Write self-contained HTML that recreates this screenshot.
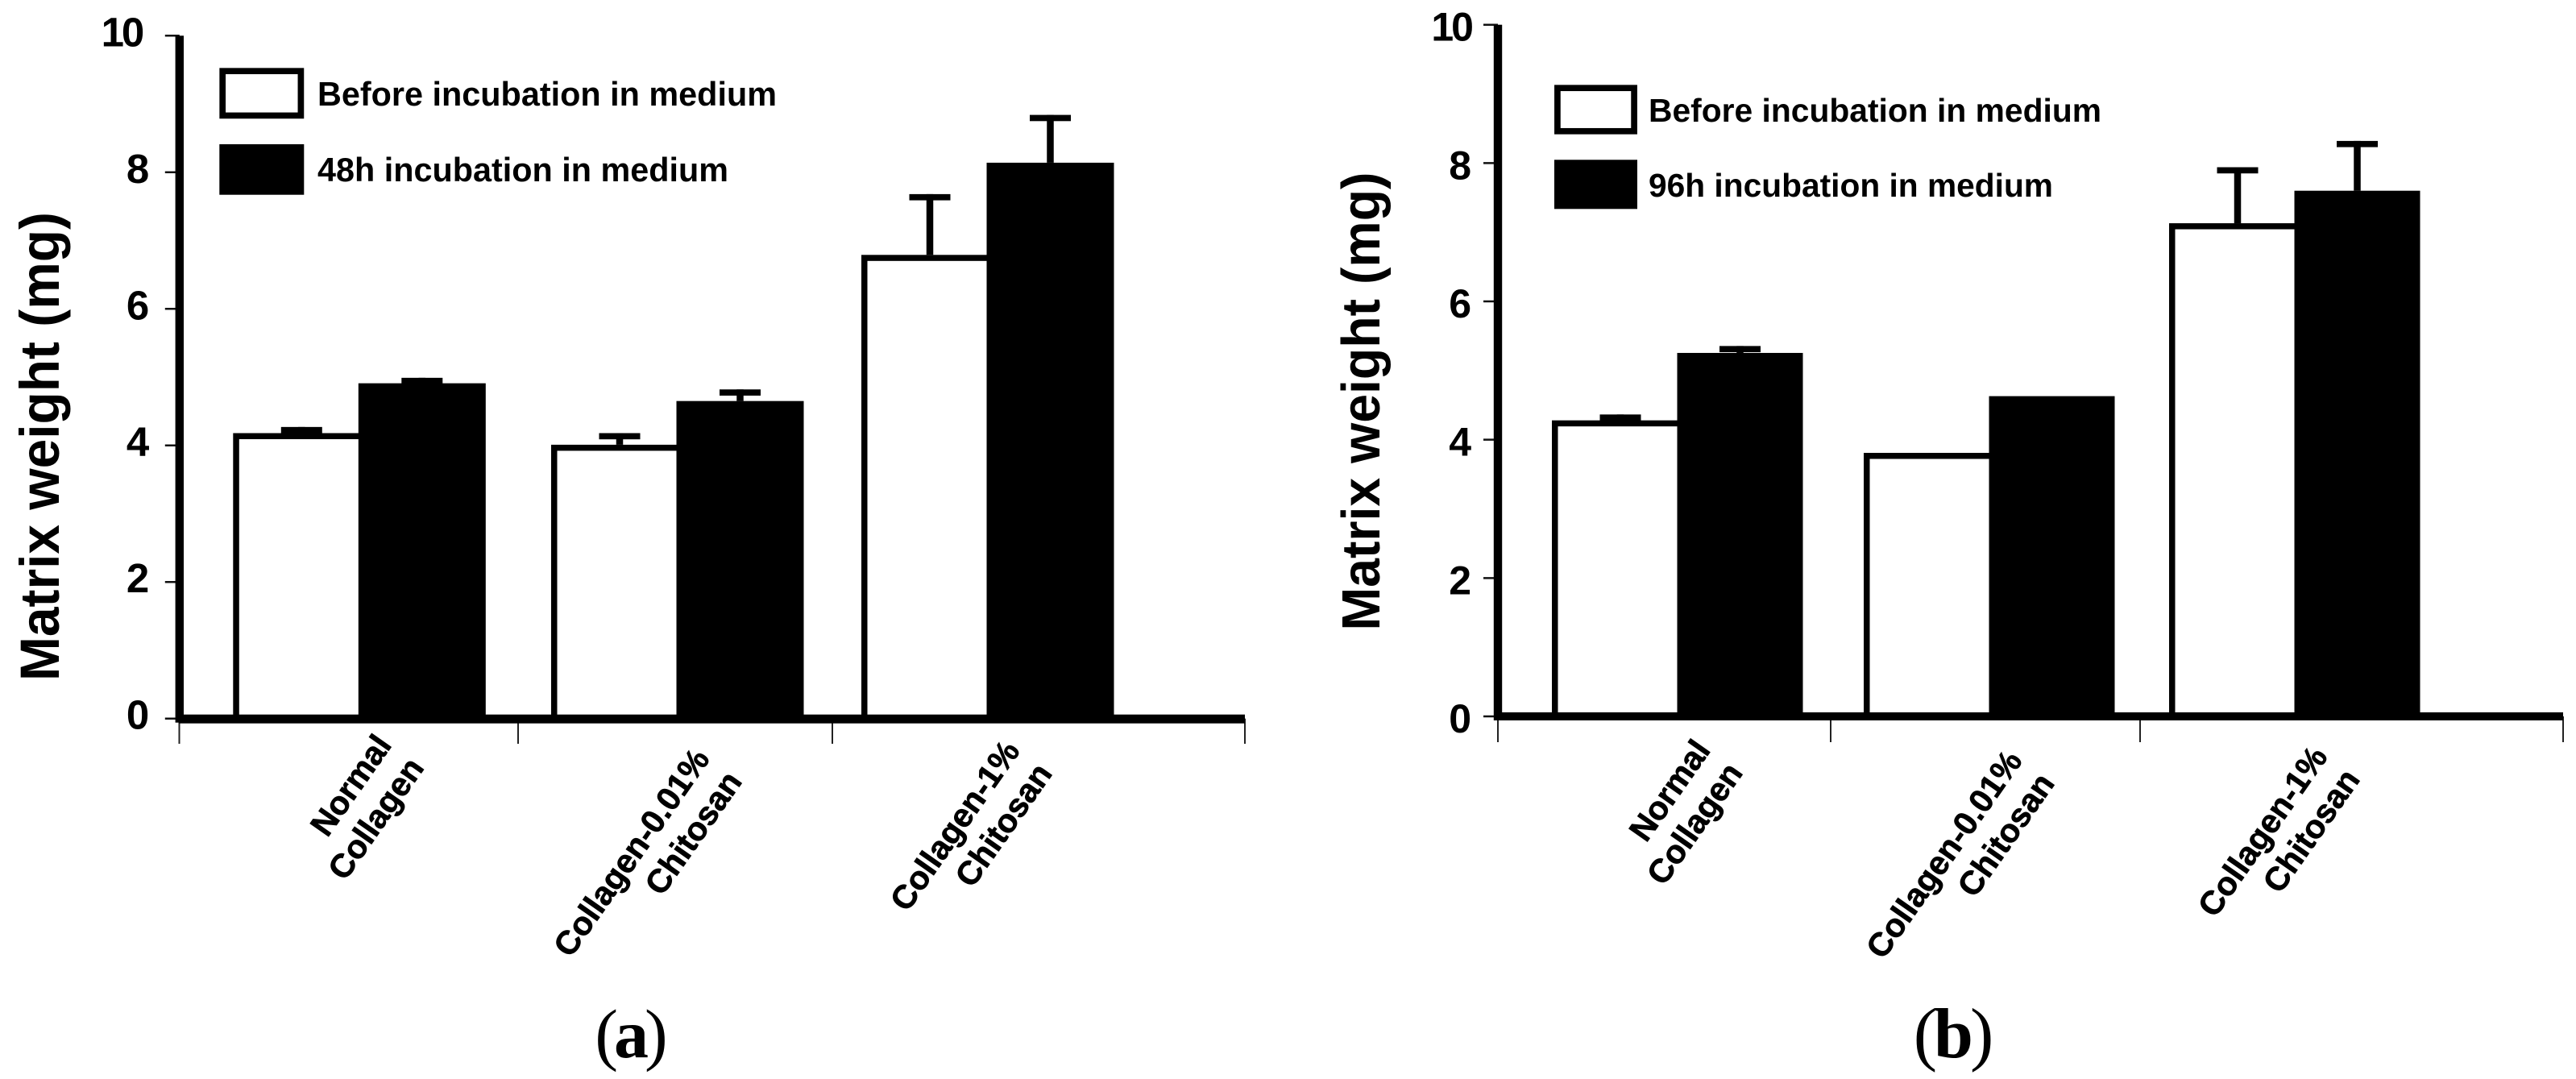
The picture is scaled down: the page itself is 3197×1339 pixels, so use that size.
<!DOCTYPE html>
<html lang="en">
<head>
<meta charset="utf-8">
<title>Matrix weight before and after incubation in medium</title>
<style>
  html, body { margin: 0; padding: 0; background: #fff; }
  svg { display: block; }
  text { font-family: "Liberation Sans", sans-serif; font-weight: bold; fill: #000; }
  .serif { font-family: "Liberation Serif", serif; }
</style>
</head>
<body>
<svg id="figure" xmlns="http://www.w3.org/2000/svg" width="3197" height="1339" viewBox="0 0 3197 1339">
  <rect x="0" y="0" width="3197" height="1339" fill="#ffffff"/>

  <g id="panel-a">
    <text transform="translate(73,554) rotate(-90)" text-anchor="middle" font-size="69" textLength="582" lengthAdjust="spacingAndGlyphs">Matrix weight (mg)</text>
    <g id="marks-a"></g>
    <g>
      <rect x="276.2" y="88.2" width="97.2" height="55.2" fill="#fff" stroke="#000" stroke-width="7.7"/>
      <text x="394" y="131" font-size="41.5" textLength="570" lengthAdjust="spacingAndGlyphs">Before incubation in medium</text>
      <rect x="272.3" y="179" width="105" height="62.7" fill="#000"/>
      <text x="394" y="225" font-size="41.5" textLength="510" lengthAdjust="spacingAndGlyphs">48h incubation in medium</text>
    </g>
    <text class="serif" x="781" y="1312" text-anchor="middle" font-size="86" letter-spacing="-5" style="font-weight:normal">(<tspan style="font-weight:bold">a</tspan>)</text>
  </g>

  <g id="panel-b">
    <text transform="translate(1712,498) rotate(-90)" text-anchor="middle" font-size="67" textLength="569" lengthAdjust="spacingAndGlyphs">Matrix weight (mg)</text>
    <g id="marks-b"></g>
    <g>
      <rect x="1932.9" y="109.2" width="95.2" height="53.6" fill="#fff" stroke="#000" stroke-width="7.7"/>
      <text x="2046" y="151" font-size="41" textLength="562" lengthAdjust="spacingAndGlyphs">Before incubation in medium</text>
      <rect x="1929" y="198.3" width="103" height="61" fill="#000"/>
      <text x="2046" y="244" font-size="41" textLength="502" lengthAdjust="spacingAndGlyphs">96h incubation in medium</text>
    </g>
    <text class="serif" x="2422.5" y="1312" text-anchor="middle" font-size="88" letter-spacing="-4" style="font-weight:normal">(<tspan style="font-weight:bold">b</tspan>)</text>
  </g>
</svg>

<script>
// ---- chart data ----
const categoryFirstLines = ["Normal", "Collagen-0.01%", "Collagen-1%"];
const categorySecondLines = ["Collagen", "Chitosan", "Chitosan"];
const tickValues = [0, 2, 4, 6, 8, 10];
const tickLabels = ["0", "2", "4", "6", "8", "10"];

const before48Values = [4.18, 4.01, 6.79];
const before48Errors = [0.09, 0.17, 0.89];
const after48Values = [4.91, 4.65, 8.14];
const after48Errors = [0.08, 0.17, 0.70];

const before96Values = [4.28, 3.81, 7.13];
const before96Errors = [0.085, 0, 0.81];
const after96Values = [5.255, 4.63, 7.60];
const after96Errors = [0.10, 0, 0.72];

const SVG_NS = "http://www.w3.org/2000/svg";

function make(parent, tag, attrs, content) {
  const node = document.createElementNS(SVG_NS, tag);
  for (const key in attrs) node.setAttribute(key, attrs[key]);
  if (content !== undefined) node.textContent = content;
  parent.appendChild(node);
  return node;
}

function drawPanel(cfg) {
  const root = document.getElementById(cfg.rootId);
  const id = cfg.suffix;

  // axis functions
  const yScale = v => cfg.yZero - v * cfg.yUnit;
  const xBefore = i => cfg.categoryRange[i];
  const xAfter = i => cfg.categoryRange[i] + cfg.beforeWidth;
  const barW = cfg.barWidth;

  // thin x separators
  cfg.separatorRange.forEach((sx, i) => {
    const tick = make(root, "line", { x1: sx, x2: sx, y1: yScale(0), y2: cfg.tickBottom, stroke: "#222", "stroke-width": 2 });
    
    
  });

  // y ticks and labels
  tickValues.forEach((v, i) => {
    const y = yScale(v);
    const tick = make(root, "line", { x1: cfg.axisX - 18, x2: cfg.axisX, y1: y, y2: y, stroke: "#111", "stroke-width": 2.5 });
    
    
    const nudge = v >= 10 ? cfg.tenNudge : 0;
    const label = make(root, "text", { x: cfg.axisX - cfg.labelGap - nudge, y: y + cfg.labelBase, "text-anchor": "end", "font-size": cfg.tickFont, "letter-spacing": v >= 10 ? -3 : 0 }, tickLabels[i]);
    
    
  });

  // error bars (drawn first, tucked behind bar tops)
  function errorBar(cx, value, err, name) {
    if (err <= 0) return;
    const top = yScale(value + err);
    const g = make(root, "g", {});
    
    
    make(g, "rect", { x: cx - 4.25, y: top, width: 8.5, height: yScale(value) - top, fill: "#000" });
    make(g, "rect", { x: cx - 25.5, y: top, width: 51, height: 7.7, fill: "#000" });
  }

  categoryFirstLines.forEach((_, i) => {
    errorBar(xBefore(i) + 85, cfg.before[i], cfg.beforeErr[i], 'error-bar-before-' + id + '-' + i);
    errorBar(xAfter(i) + barW / 2, cfg.after[i], cfg.afterErr[i], 'error-bar-after-' + id + '-' + i);
  });

  // bars
  categoryFirstLines.forEach((_, i) => {
    const yb = yScale(cfg.before[i]);
    const white = make(root, "rect", {
      x: xBefore(i) + 3.75, y: yb + 3.75, width: cfg.beforeWidth + 8,
      height: yScale(0) - yb - 3.75, fill: "#fff", stroke: "#000", "stroke-width": 7.5
    });
    
    

    const ya = yScale(cfg.after[i]);
    const black = make(root, "rect", { x: xAfter(i), y: ya, width: barW, height: yScale(0) - ya, fill: "#000" });
    
    
  });

  // axes lines
  const yAxis = make(root, "rect", { x: cfg.axisX - 5.2, y: yScale(10), width: 10.4, height: yScale(0) - yScale(10) + 5, fill: "#000" });
  
  
  const xAxis = make(root, "rect", { x: cfg.axisX - 1, y: yScale(0) - cfg.bandUp, width: cfg.axisEnd - cfg.axisX + 1, height: cfg.bandHeight, fill: "#000" });
  
  

  // rotated category labels (right-aligned, two lines)
  categoryFirstLines.forEach((first, i) => {
    const g = make(root, "g", {
      transform: "translate(" + (xBefore(i) + 198) + "," + (yScale(0) + cfg.labelDrop[i]) + ") rotate(-55)"
    });
    
    
    make(g, "text", { x: 0, y: 0, "text-anchor": "end", "font-size": 41, stroke: "#000", "stroke-width": 0.7 }, first);
    make(g, "text", { x: 0, y: 49, "text-anchor": "end", "font-size": 41, stroke: "#000", "stroke-width": 0.7 }, categorySecondLines[i]);
  });
}

drawPanel({
  rootId: "marks-a", suffix: "a",
  before: before48Values, beforeErr: before48Errors,
  after: after48Values, afterErr: after48Errors,
  yZero: 891.7, yUnit: 84.74,
  axisX: 222.8, axisEnd: 1545, tickBottom: 923,
  bandUp: 5, bandHeight: 11,
  categoryRange: [289.3, 684, 1069],
  separatorRange: [222.5, 643, 1033, 1545],
  beforeWidth: 155.5, barWidth: 158,
  labelDrop: [33, 50, 40],
  labelGap: 37.5, tenNudge: 9, labelBase: 13, tickFont: 51
});

drawPanel({
  rootId: "marks-b", suffix: "b",
  before: before96Values, beforeErr: before96Errors,
  after: after96Values, afterErr: after96Errors,
  yZero: 889, yUnit: 85.83,
  axisX: 1859, axisEnd: 3181, tickBottom: 921,
  bandUp: 5, bandHeight: 10,
  categoryRange: [1926, 2313, 2692],
  separatorRange: [1859, 2272, 2656, 3181],
  beforeWidth: 155.5, barWidth: 156,
  labelDrop: [42, 55, 50],
  labelGap: 33, tenNudge: 0, labelBase: 20, tickFont: 50
});
</script>
</body>
</html>
